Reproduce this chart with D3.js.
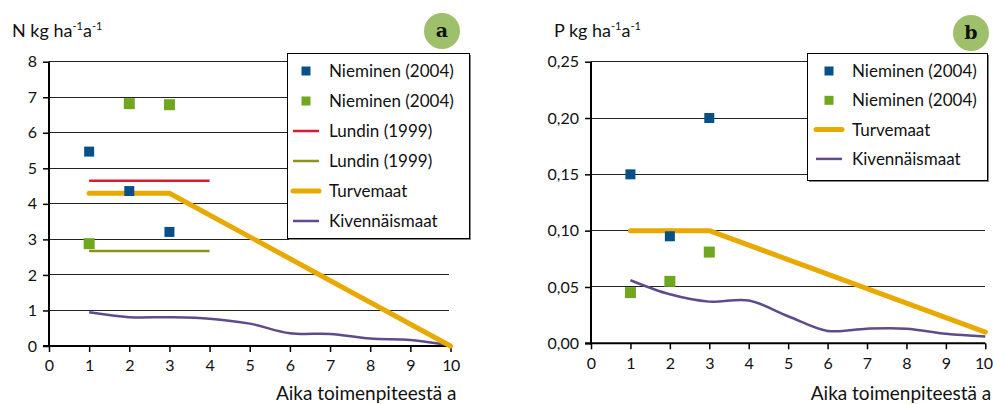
<!DOCTYPE html>
<html>
<head>
<meta charset="utf-8">
<script src="https://cdn.jsdelivr.net/npm/d3@7"></script>
<style>
  html, body { margin: 0; padding: 0; background: #fff; }
  svg { display: block; font-family: Lato, "Open Sans", sans-serif; }
</style>
</head>
<body>
<svg id="chart" width="993" height="404"></svg>
<script>
// ---------- DATA ----------
const years = [0, 1, 2, 3, 4, 5, 6, 7, 8, 9, 10];

// Chart a (N)
const nTicks = [0, 1, 2, 3, 4, 5, 6, 7, 8];
const nNieminenBlue = [[1, 5.47], [2, 4.36], [3, 3.21]];
const nNieminenGreen = [[1, 2.88], [2, 6.82], [3, 6.79]];
const nLundinRed = [[1, 4.65], [4, 4.65]];
const nLundinOlive = [[1, 2.67], [4, 2.67]];
const nTurvemaat = [[1, 4.3], [3, 4.3], [10, 0]];
const nKivennaismaat = [[1, 0.95], [2, 0.81], [3, 0.81], [4, 0.77], [5, 0.63], [6, 0.36], [7, 0.34], [8, 0.21], [9, 0.17], [10, 0.02]];

// Chart b (P)
const pTicks = [0, 0.05, 0.10, 0.15, 0.20, 0.25];
const pNieminenBlue = [[1, 0.15], [2, 0.095], [3, 0.20]];
const pNieminenGreen = [[1, 0.045], [2, 0.055], [3, 0.081]];
const pTurvemaat = [[1, 0.10], [3, 0.10], [10, 0.01]];
const pKivennaismaat = [[1, 0.056], [2, 0.0435], [3, 0.037], [4, 0.038], [5, 0.024], [6, 0.011], [7, 0.013], [8, 0.013], [9, 0.0085], [10, 0.006]];

const xTitle = "Aika toimenpiteestä a";

// ---------- STYLE ----------
const C = {
  blue: "#0a5088",
  green: "#6fa71f",
  red: "#dc1a2e",
  olive: "#8b9214",
  orange: "#e8a900",
  purple: "#5e4b8b",
  badge: "#9fc06b"
};

const svg = d3.select("#chart");

function drawChart(cfg) {
  const g = svg.append("g");
  const x = d3.scaleLinear().domain([0, 10]).range([cfg.x0, cfg.x1]);
  const y = d3.scaleLinear().domain([0, cfg.yMax]).range([cfg.y0, cfg.y1]);

  // gridlines
  g.append("g").selectAll("line").data(cfg.yTicks.filter(d => d > 0)).join("line")
    .attr("x1", cfg.x0).attr("x2", cfg.gridEnd)
    .attr("y1", d => y(d)).attr("y2", d => y(d))
    .attr("stroke", "#222").attr("stroke-width", 1)
    .attr("shape-rendering", "crispEdges");

  // y axis
  const yAxis = d3.axisLeft(y).tickValues(cfg.yTicks).tickSize(6).tickPadding(6)
    .tickFormat(cfg.yFormat);
  const ya = g.append("g").attr("transform", `translate(${cfg.x0},0)`).call(yAxis);
  ya.select(".domain").remove();
  ya.selectAll(".tick line").attr("stroke", "#000").attr("stroke-width", 1.5);
  ya.selectAll(".tick text").attr("font-size", 16).attr("fill", "#111")
    .attr("font-family", "Lato, sans-serif");
  g.append("line").attr("x1", cfg.x0).attr("x2", cfg.x0)
    .attr("y1", cfg.y1).attr("y2", cfg.y0 + 1)
    .attr("stroke", "#000").attr("stroke-width", 2);

  // x axis
  const xAxis = d3.axisBottom(x).tickValues(years).tickSize(6).tickPadding(8);
  const xa = g.append("g").attr("transform", `translate(0,${cfg.y0})`).call(xAxis);
  xa.select(".domain").remove();
  xa.selectAll(".tick line").attr("stroke", "#000").attr("stroke-width", 1.5);
  xa.selectAll(".tick text").attr("font-size", 16).attr("fill", "#111")
    .attr("font-family", "Lato, sans-serif")
    .attr("letter-spacing", d => d === 10 ? -0.5 : 0)
    .attr("dx", d => d === 10 ? cfg.lastTickDx : 0);
  g.append("line").attr("x1", cfg.x0 - 6).attr("x2", cfg.x1)
    .attr("y1", cfg.y0).attr("y2", cfg.y0)
    .attr("stroke", "#000").attr("stroke-width", 2);

  // x title
  g.append("text").attr("x", cfg.x1 + 6).attr("y", 400).attr("text-anchor", "end")
    .attr("font-size", 19).attr("fill", "#111").text(xTitle);

  // y title with superscripts
  const t = g.append("text").attr("x", cfg.titleX).attr("y", 37)
    .attr("font-size", 18).attr("fill", "#111");
  t.append("tspan").text(cfg.yTitle + " ha");
  t.append("tspan").attr("font-size", 11).attr("dy", -7).text("-1");
  t.append("tspan").attr("dy", 7).text("a");
  t.append("tspan").attr("font-size", 11).attr("dy", -7).text("-1");

  // badge
  g.append("circle").attr("cx", cfg.badgeX).attr("cy", cfg.badgeY).attr("r", 18)
    .attr("fill", C.badge);
  g.append("text").attr("x", cfg.badgeX).attr("y", cfg.badgeY + 6)
    .attr("text-anchor", "middle").attr("font-size", 19).attr("font-weight", "bold")
    .attr("font-family", "'DejaVu Serif', serif").attr("fill", "#111").text(cfg.badgeLabel);

  const line = d3.line().x(d => x(d[0])).y(d => y(d[1]));
  const smooth = d3.line().x(d => x(d[0])).y(d => y(d[1])).curve(d3.curveCatmullRom.alpha(0.5));

  const plot = g.append("g");
  cfg.lines.forEach(l => {
    plot.append("path").datum(l.data)
      .attr("d", l.smooth ? smooth : line)
      .attr("fill", "none").attr("stroke", l.color).attr("stroke-width", l.width)
      .attr("stroke-linecap", l.cap || "butt").attr("stroke-linejoin", "round");
  });
  cfg.points.forEach(p => {
    plot.append("g").selectAll("rect").data(p.data).join("rect")
      .attr("x", d => x(d[0]) - p.size / 2).attr("y", d => y(d[1]) - p.size / 2)
      .attr("width", p.size).attr("height", p.size).attr("fill", p.color);
  });

  // legend
  const L = cfg.legend;
  const lg = g.append("g");
  lg.append("rect").attr("x", L.x + 2).attr("y", L.y + 2).attr("width", L.w).attr("height", L.h)
    .attr("fill", "#888");
  lg.append("rect").attr("x", L.x).attr("y", L.y).attr("width", L.w).attr("height", L.h)
    .attr("fill", "#fff").attr("stroke", "#000").attr("stroke-width", 1)
    .attr("shape-rendering", "crispEdges");
  L.items.forEach((it, i) => {
    const cy = L.firstY + i * L.step;
    if (it.type === "square") {
      lg.append("rect").attr("x", L.symX - 4.5).attr("y", cy - 4.5).attr("width", 9).attr("height", 9)
        .attr("fill", it.color);
    } else {
      lg.append("line").attr("x1", L.symX - 13).attr("x2", L.symX + 13)
        .attr("y1", cy).attr("y2", cy).attr("stroke", it.color).attr("stroke-width", it.width)
        .attr("stroke-linecap", it.cap || "butt");
    }
    lg.append("text").attr("x", L.textX).attr("y", cy + 6).attr("font-size", 17)
      .attr("fill", "#111").text(it.label);
  });
}

drawChart({
  x0: 49, x1: 450.5, y0: 346, y1: 61.7, yMax: 8, gridEnd: 449, lastTickDx: 0,
  yTicks: nTicks, yFormat: d3.format("d"),
  yTitle: "N kg", titleX: 12,
  badgeX: 442, badgeY: 31, badgeLabel: "a",
  lines: [
    { data: nLundinRed, color: C.red, width: 2.5 },
    { data: nLundinOlive, color: C.olive, width: 2.5 },
    { data: nKivennaismaat, color: C.purple, width: 2.5, smooth: true },
    { data: nTurvemaat, color: C.orange, width: 5, cap: "round" }
  ],
  points: [
    { data: nNieminenBlue, color: C.blue, size: 10 },
    { data: nNieminenGreen, color: C.green, size: 11 }
  ],
  legend: {
    x: 287, y: 53, w: 182, h: 185, firstY: 71, step: 30, symX: 306, textX: 329,
    items: [
      { type: "square", color: C.blue, label: "Nieminen (2004)" },
      { type: "square", color: C.green, label: "Nieminen (2004)" },
      { type: "line", color: C.red, width: 2.5, label: "Lundin (1999)" },
      { type: "line", color: C.olive, width: 2.5, label: "Lundin (1999)" },
      { type: "line", color: C.orange, width: 5, cap: "round", label: "Turvemaat" },
      { type: "line", color: C.purple, width: 2.5, label: "Kivennäismaat" }
    ]
  }
});

drawChart({
  x0: 591, x1: 985.3, y0: 343.3, y1: 61.7, yMax: 0.25, gridEnd: 985, lastTickDx: -2,
  yTicks: pTicks, yFormat: d => d3.format(".2f")(d).replace(".", ","),
  yTitle: "P kg", titleX: 554,
  badgeX: 971, badgeY: 33, badgeLabel: "b",
  lines: [
    { data: pKivennaismaat, color: C.purple, width: 2.5, smooth: true },
    { data: pTurvemaat, color: C.orange, width: 5, cap: "round" }
  ],
  points: [
    { data: pNieminenBlue, color: C.blue, size: 10 },
    { data: pNieminenGreen, color: C.green, size: 11 }
  ],
  legend: {
    x: 807, y: 53, w: 180, h: 127, firstY: 71, step: 29.3, symX: 829, textX: 852,
    items: [
      { type: "square", color: C.blue, label: "Nieminen (2004)" },
      { type: "square", color: C.green, label: "Nieminen (2004)" },
      { type: "line", color: C.orange, width: 5, cap: "round", label: "Turvemaat" },
      { type: "line", color: C.purple, width: 2.5, label: "Kivennäismaat" }
    ]
  }
});
</script>
</body>
</html>
